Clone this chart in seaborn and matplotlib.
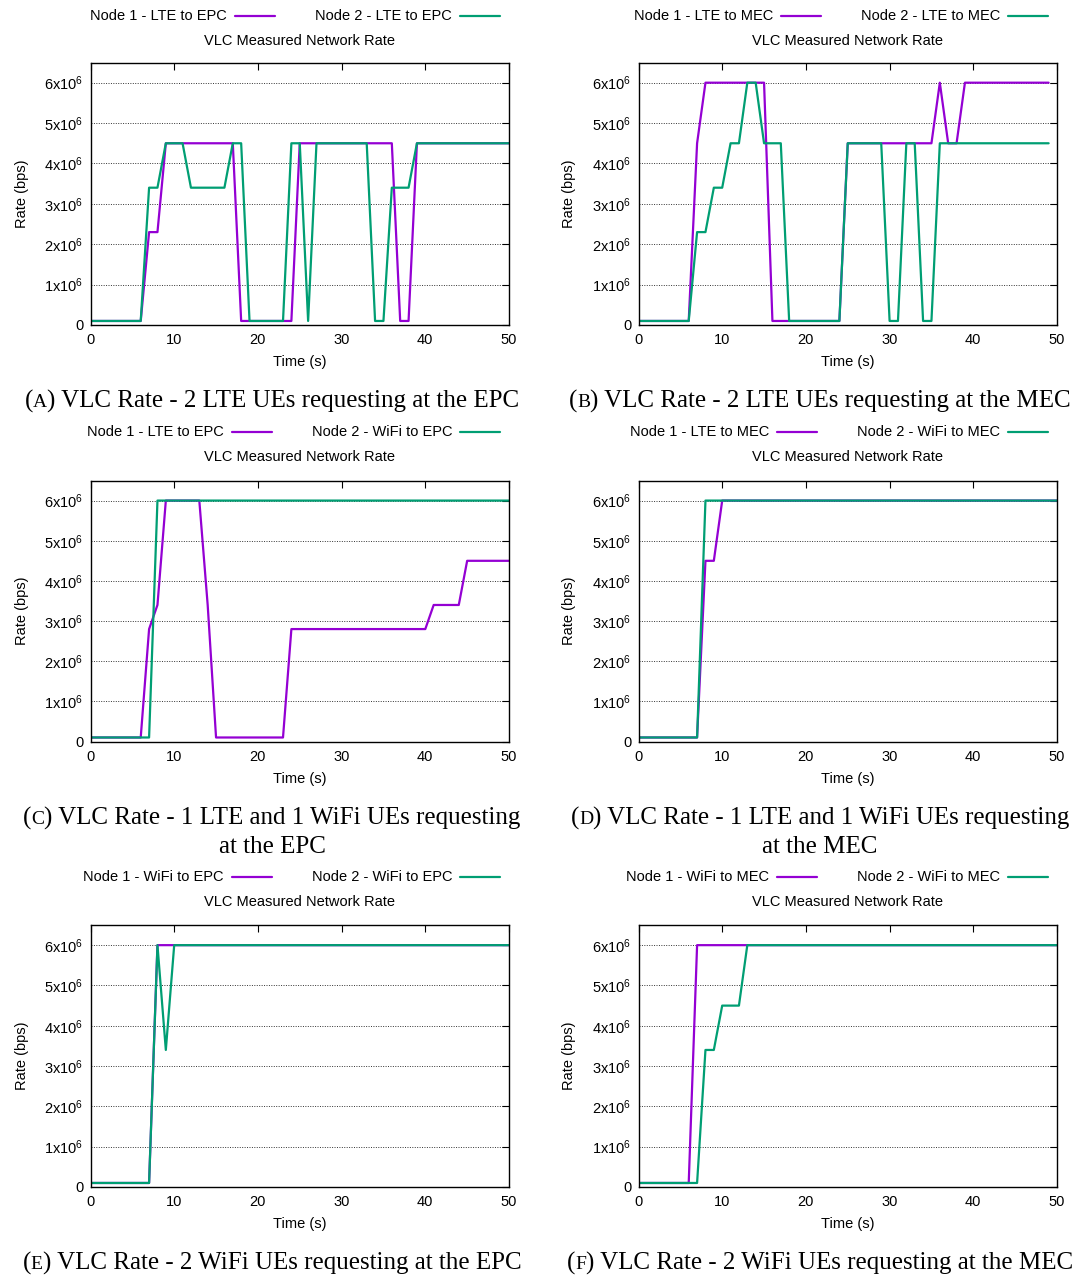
import matplotlib
matplotlib.use("Agg")
import matplotlib.pyplot as plt
import pandas as pd
import seaborn as sns
from matplotlib.lines import Line2D

W, H = 1086, 1277

# ---------------- data (rates in units of 10^6 bps) ----------------
time_0_50 = list(range(51))
time_0_49 = list(range(50))

a_node1 = [0.1, 0.1, 0.1, 0.1, 0.1, 0.1, 0.1, 2.3, 2.3, 4.5,
           4.5, 4.5, 4.5, 4.5, 4.5, 4.5, 4.5, 4.5, 0.1, 0.1,
           0.1, 0.1, 0.1, 0.1, 0.1, 4.5, 4.5, 4.5, 4.5, 4.5,
           4.5, 4.5, 4.5, 4.5, 4.5, 4.5, 4.5, 0.1, 0.1, 4.5,
           4.5, 4.5, 4.5, 4.5, 4.5, 4.5, 4.5, 4.5, 4.5, 4.5, 4.5]
a_node2 = [0.1, 0.1, 0.1, 0.1, 0.1, 0.1, 0.1, 3.4, 3.4, 4.5,
           4.5, 4.5, 3.4, 3.4, 3.4, 3.4, 3.4, 4.5, 4.5, 0.1,
           0.1, 0.1, 0.1, 0.1, 4.5, 4.5, 0.1, 4.5, 4.5, 4.5,
           4.5, 4.5, 4.5, 4.5, 0.1, 0.1, 3.4, 3.4, 3.4, 4.5,
           4.5, 4.5, 4.5, 4.5, 4.5, 4.5, 4.5, 4.5, 4.5, 4.5, 4.5]

b_node1 = [0.1, 0.1, 0.1, 0.1, 0.1, 0.1, 0.1, 4.5, 6.0, 6.0,
           6.0, 6.0, 6.0, 6.0, 6.0, 6.0, 0.1, 0.1, 0.1, 0.1,
           0.1, 0.1, 0.1, 0.1, 0.1, 4.5, 4.5, 4.5, 4.5, 4.5,
           4.5, 4.5, 4.5, 4.5, 4.5, 4.5, 6.0, 4.5, 4.5, 6.0,
           6.0, 6.0, 6.0, 6.0, 6.0, 6.0, 6.0, 6.0, 6.0, 6.0]
b_node2 = [0.1, 0.1, 0.1, 0.1, 0.1, 0.1, 0.1, 2.3, 2.3, 3.4,
           3.4, 4.5, 4.5, 6.0, 6.0, 4.5, 4.5, 4.5, 0.1, 0.1,
           0.1, 0.1, 0.1, 0.1, 0.1, 4.5, 4.5, 4.5, 4.5, 4.5,
           0.1, 0.1, 4.5, 4.5, 0.1, 0.1, 4.5, 4.5, 4.5, 4.5,
           4.5, 4.5, 4.5, 4.5, 4.5, 4.5, 4.5, 4.5, 4.5, 4.5]

c_node1 = [0.1, 0.1, 0.1, 0.1, 0.1, 0.1, 0.1, 2.8, 3.4, 6.0,
           6.0, 6.0, 6.0, 6.0, 3.4, 0.1, 0.1, 0.1, 0.1, 0.1,
           0.1, 0.1, 0.1, 0.1, 2.8, 2.8, 2.8, 2.8, 2.8, 2.8,
           2.8, 2.8, 2.8, 2.8, 2.8, 2.8, 2.8, 2.8, 2.8, 2.8,
           2.8, 3.4, 3.4, 3.4, 3.4, 4.5, 4.5, 4.5, 4.5, 4.5, 4.5]
c_node2 = [0.1, 0.1, 0.1, 0.1, 0.1, 0.1, 0.1, 0.1, 6.0, 6.0,
           6.0, 6.0, 6.0, 6.0, 6.0, 6.0, 6.0, 6.0, 6.0, 6.0,
           6.0, 6.0, 6.0, 6.0, 6.0, 6.0, 6.0, 6.0, 6.0, 6.0,
           6.0, 6.0, 6.0, 6.0, 6.0, 6.0, 6.0, 6.0, 6.0, 6.0,
           6.0, 6.0, 6.0, 6.0, 6.0, 6.0, 6.0, 6.0, 6.0, 6.0, 6.0]

d_node1 = [0.1, 0.1, 0.1, 0.1, 0.1, 0.1, 0.1, 0.1, 4.5, 4.5,
           6.0, 6.0, 6.0, 6.0, 6.0, 6.0, 6.0, 6.0, 6.0, 6.0,
           6.0, 6.0, 6.0, 6.0, 6.0, 6.0, 6.0, 6.0, 6.0, 6.0,
           6.0, 6.0, 6.0, 6.0, 6.0, 6.0, 6.0, 6.0, 6.0, 6.0,
           6.0, 6.0, 6.0, 6.0, 6.0, 6.0, 6.0, 6.0, 6.0, 6.0, 6.0]
d_node2 = [0.1, 0.1, 0.1, 0.1, 0.1, 0.1, 0.1, 0.1, 6.0, 6.0,
           6.0, 6.0, 6.0, 6.0, 6.0, 6.0, 6.0, 6.0, 6.0, 6.0,
           6.0, 6.0, 6.0, 6.0, 6.0, 6.0, 6.0, 6.0, 6.0, 6.0,
           6.0, 6.0, 6.0, 6.0, 6.0, 6.0, 6.0, 6.0, 6.0, 6.0,
           6.0, 6.0, 6.0, 6.0, 6.0, 6.0, 6.0, 6.0, 6.0, 6.0, 6.0]

e_node1 = [0.1, 0.1, 0.1, 0.1, 0.1, 0.1, 0.1, 0.1, 6.0, 6.0,
           6.0, 6.0, 6.0, 6.0, 6.0, 6.0, 6.0, 6.0, 6.0, 6.0,
           6.0, 6.0, 6.0, 6.0, 6.0, 6.0, 6.0, 6.0, 6.0, 6.0,
           6.0, 6.0, 6.0, 6.0, 6.0, 6.0, 6.0, 6.0, 6.0, 6.0,
           6.0, 6.0, 6.0, 6.0, 6.0, 6.0, 6.0, 6.0, 6.0, 6.0, 6.0]
e_node2 = [0.1, 0.1, 0.1, 0.1, 0.1, 0.1, 0.1, 0.1, 6.0, 3.4,
           6.0, 6.0, 6.0, 6.0, 6.0, 6.0, 6.0, 6.0, 6.0, 6.0,
           6.0, 6.0, 6.0, 6.0, 6.0, 6.0, 6.0, 6.0, 6.0, 6.0,
           6.0, 6.0, 6.0, 6.0, 6.0, 6.0, 6.0, 6.0, 6.0, 6.0,
           6.0, 6.0, 6.0, 6.0, 6.0, 6.0, 6.0, 6.0, 6.0, 6.0, 6.0]

f_node1 = [0.1, 0.1, 0.1, 0.1, 0.1, 0.1, 0.1, 6.0, 6.0, 6.0,
           6.0, 6.0, 6.0, 6.0, 6.0, 6.0, 6.0, 6.0, 6.0, 6.0,
           6.0, 6.0, 6.0, 6.0, 6.0, 6.0, 6.0, 6.0, 6.0, 6.0,
           6.0, 6.0, 6.0, 6.0, 6.0, 6.0, 6.0, 6.0, 6.0, 6.0,
           6.0, 6.0, 6.0, 6.0, 6.0, 6.0, 6.0, 6.0, 6.0, 6.0, 6.0]
f_node2 = [0.1, 0.1, 0.1, 0.1, 0.1, 0.1, 0.1, 0.1, 3.4, 3.4,
           4.5, 4.5, 4.5, 6.0, 6.0, 6.0, 6.0, 6.0, 6.0, 6.0,
           6.0, 6.0, 6.0, 6.0, 6.0, 6.0, 6.0, 6.0, 6.0, 6.0,
           6.0, 6.0, 6.0, 6.0, 6.0, 6.0, 6.0, 6.0, 6.0, 6.0,
           6.0, 6.0, 6.0, 6.0, 6.0, 6.0, 6.0, 6.0, 6.0, 6.0, 6.0]

panel_letters = ["A", "B", "C", "D", "E", "F"]
caption_lines = [
    ["VLC Rate - 2 LTE UEs requesting at the EPC"],
    ["VLC Rate - 2 LTE UEs requesting at the MEC"],
    ["VLC Rate - 1 LTE and 1 WiFi UEs requesting", "at the EPC"],
    ["VLC Rate - 1 LTE and 1 WiFi UEs requesting", "at the MEC"],
    ["VLC Rate - 2 WiFi UEs requesting at the EPC"],
    ["VLC Rate - 2 WiFi UEs requesting at the MEC"],
]
node1_labels = ["Node 1 - LTE to EPC", "Node 1 - LTE to MEC",
                "Node 1 - LTE to EPC", "Node 1 - LTE to MEC",
                "Node 1 - WiFi to EPC", "Node 1 - WiFi to MEC"]
node2_labels = ["Node 2 - LTE to EPC", "Node 2 - LTE to MEC",
                "Node 2 - WiFi to EPC", "Node 2 - WiFi to MEC",
                "Node 2 - WiFi to EPC", "Node 2 - WiFi to MEC"]
panel_times = [time_0_50, time_0_49, time_0_50, time_0_50, time_0_50, time_0_50]
panel_node1 = [a_node1, b_node1, c_node1, d_node1, e_node1, f_node1]
panel_node2 = [a_node2, b_node2, c_node2, d_node2, e_node2, f_node2]

plot_title = "VLC Measured Network Rate"
x_label = "Time (s)"
y_label = "Rate (bps)"
x_ticks = [0, 10, 20, 30, 40, 50]
y_ticks = [0, 1e6, 2e6, 3e6, 4e6, 5e6, 6e6]
y_tick_labels = ["0"] + [r"$\mathregular{%dx10^{6}}$" % k for k in range(1, 7)]

# ---------------- style ----------------
sns.set_theme(style="white")
plt.rcParams["font.family"] = ["Liberation Sans", "DejaVu Sans"]
plt.rcParams["mathtext.fontset"] = "custom"
plt.rcParams["mathtext.rm"] = "Liberation Sans"
plt.rcParams["mathtext.default"] = "regular"
plt.rcParams["text.color"] = "black"
plt.rcParams["axes.labelcolor"] = "black"
plt.rcParams["xtick.color"] = "black"
plt.rcParams["ytick.color"] = "black"

PURPLE = "#9400D3"
GREEN = "#009E73"
SANS = 10.5
CAP_FS = 18.0

fig = plt.figure(figsize=(W / 100, H / 100), dpi=100)
renderer = fig.canvas.get_renderer()

col_left = [90.5, 638.5]
col_right = [509.0, 1057.0]
row_top = [62.5, 480.5, 925.0]
row_bot = [325.0, 741.5, 1187.0]
row_legend_y = [16, 432, 877]
row_title_y = [41, 457, 902]
row_xlabel_y = [362, 779, 1224]
row_caption_y = [401, 818, 1263]
caption_center = [272, 820]
ylabel_x = [22, 569]


def fx(px):
    return px / W


def fy(py):
    return 1 - py / H


def text_width(t):
    return t.get_window_extent(renderer=renderer).width


for i in range(6):
    r, c = divmod(i, 2)
    l, rr, t, b = col_left[c], col_right[c], row_top[r], row_bot[r]
    ax = fig.add_axes([fx(l), fy(b), (rr - l) / W, (b - t) / H])

    n = len(panel_times[i])
    df = pd.DataFrame({
        "time": list(panel_times[i]) * 2,
        "rate": [v * 1e6 for v in panel_node1[i]] + [v * 1e6 for v in panel_node2[i]],
        "node": [node1_labels[i]] * n + [node2_labels[i]] * n,
    })
    sns.lineplot(data=df, x="time", y="rate", hue="node",
                 palette=[PURPLE, GREEN], linewidth=1.6, legend=False,
                 ax=ax, sort=False, estimator=None)

    ax.set_xlim(0, 50)
    ax.set_ylim(0, 6.5e6)
    ax.set_xticks(x_ticks)
    ax.set_yticks(y_ticks)
    ax.set_yticklabels(y_tick_labels)
    ax.set_xlabel("")
    ax.set_ylabel("")
    ax.tick_params(direction="in", top=True, right=True, length=5, width=0.8,
                   labelsize=SANS, colors="black", pad=5)
    ax.tick_params(axis="x", pad=6)
    ax.set_axisbelow(True)
    ax.yaxis.grid(True, linestyle=(0, (1, 1.5)), color="#333333", linewidth=0.7)
    ax.xaxis.grid(False)
    for s in ax.spines.values():
        s.set_color("black")
        s.set_linewidth(1.0)
        s.set_visible(True)

    xc = (l + rr) / 2
    fig.text(fx(xc), fy(row_title_y[r]), plot_title, ha="center", va="center",
             fontsize=SANS, color="black")
    fig.text(fx(xc), fy(row_xlabel_y[r]), x_label, ha="center", va="center",
             fontsize=SANS, color="black")
    fig.text(fx(ylabel_x[c]), fy((t + b) / 2), y_label, ha="center", va="center",
             rotation=90, fontsize=SANS, color="black")

    # gnuplot style key: text then line sample, two columns, right-aligned
    ly = fy(row_legend_y[r])
    line_len, gap = 40, 8
    t1 = fig.text(0, ly, node1_labels[i], ha="right", va="center", fontsize=SANS,
                  color="black")
    t2 = fig.text(0, ly, node2_labels[i], ha="right", va="center", fontsize=SANS,
                  color="black")
    colw = max(text_width(t1), text_width(t2)) + 88
    end2 = rr - 9
    end1 = end2 - colw
    for tt, end, colr in [(t1, end1, PURPLE), (t2, end2, GREEN)]:
        tt.set_x(fx(end - line_len - gap))
        fig.add_artist(Line2D([fx(end - line_len), fx(end)], [ly, ly],
                              transform=fig.transFigure, color=colr, linewidth=1.6))

    # caption with small-caps panel letter
    cy = row_caption_y[r]
    lines = caption_lines[i]
    serif = ["Liberation Serif", "DejaVu Serif"]
    p1 = fig.text(0, fy(cy), "(", fontsize=CAP_FS, family=serif, ha="left",
                  va="center", color="black")
    p2 = fig.text(0, fy(cy), panel_letters[i], fontsize=CAP_FS * 0.78, family=serif,
                  ha="left", va="center", color="black")
    p3 = fig.text(0, fy(cy), ") " + lines[0], fontsize=CAP_FS, family=serif,
                  ha="left", va="center", color="black")
    w1, w2, w3 = text_width(p1), text_width(p2), text_width(p3)
    x0 = caption_center[c] - (w1 + w2 + w3) / 2
    p1.set_x(fx(x0))
    p2.set_x(fx(x0 + w1))
    p3.set_x(fx(x0 + w1 + w2))
    p2.set_y(fy(cy + 1.7))
    if len(lines) > 1:
        fig.text(fx(caption_center[c]), fy(cy + 29), lines[1], fontsize=CAP_FS,
                 family=serif, ha="center", va="center", color="black")

fig.savefig("out.png", dpi=100)
